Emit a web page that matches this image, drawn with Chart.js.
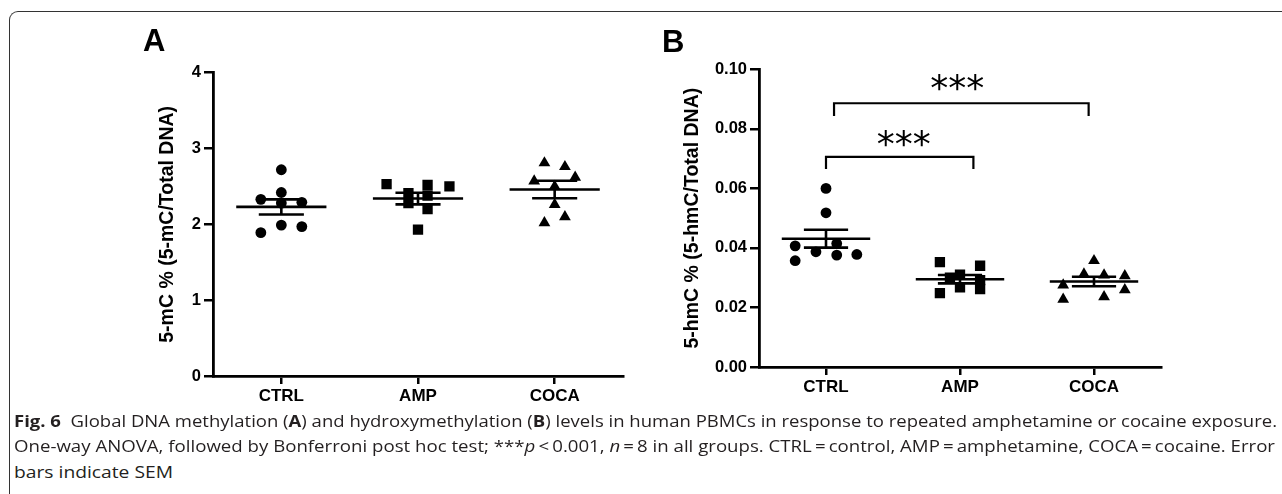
<!DOCTYPE html>
<html>
<head>
<meta charset="utf-8">
<script src="https://cdn.jsdelivr.net/npm/chart.js@4.4.1/dist/chart.umd.min.js"></script>
<style>
  html, body { margin: 0; padding: 0; background: #fff; }
  body { width: 1282px; height: 494px; position: relative; overflow: hidden; font-family: "Liberation Sans", Arial, sans-serif; }
  .frame { position: absolute; left: 9px; top: 11px; width: 1400px; height: 600px;
           border-top: 1.2px solid #333; border-left: 1.2px solid #333; border-top-left-radius: 9px; }
  #cA { position: absolute; left: 0; top: 0; }
  #cB { position: absolute; left: 640px; top: 0; }
  .panel { position: absolute; font: bold 31px "Liberation Sans", Arial, sans-serif; line-height: 31px; color: #000; }
  .cap { position: absolute; left: 14px; white-space: nowrap; font-family: "Open Sans", sans-serif;
         font-size: 16.5px; line-height: 20px; color: #231f20; transform-origin: 0 0; }
</style>
</head>
<body>
<div class="frame"></div>
<canvas id="cA" width="640" height="420"></canvas>
<canvas id="cB" width="642" height="420"></canvas>
<div class="panel" style="left:143px; top:25px;">A</div>
<div class="panel" style="left:662px; top:26px;">B</div>
<div class="cap" style="top:411px;" data-w="1263"><b>Fig. 6</b>&nbsp; Global DNA methylation (<b>A</b>) and hydroxymethylation (<b>B</b>) levels in human PBMCs in response to repeated amphetamine or cocaine exposure.</div>
<div class="cap" style="top:436px;" data-w="1261">One-way ANOVA, followed by Bonferroni post hoc test; ***<i>p</i>&thinsp;&lt;&thinsp;0.001, <i>n</i>&thinsp;=&thinsp;8 in all groups. CTRL&thinsp;=&thinsp;control, AMP&thinsp;=&thinsp;amphetamine, COCA&thinsp;=&thinsp;cocaine. Error</div>
<div class="cap" style="top:462px;" data-w="159">bars indicate SEM</div>
<script>
const groups = ['CTRL', 'AMP', 'COCA'];

// panel A: 5-mC %
const mcCtrl = [2.72, 2.42, 2.33, 2.29, 2.28, 1.99, 1.97, 1.89];
const mcAmp  = [2.53, 2.52, 2.50, 2.41, 2.38, 2.28, 2.20, 1.93];
const mcCoca = [2.81, 2.76, 2.62, 2.57, 2.50, 2.26, 2.10, 2.02];
const mcMean = [2.23, 2.34, 2.46];
const mcSem  = [0.10, 0.077, 0.115];
const mcTicks = [0, 1, 2, 3, 4];

// panel B: 5-hmC %
const hmcCtrl = [0.0600, 0.0518, 0.0407, 0.0415, 0.0387, 0.0376, 0.0378, 0.0357];
const hmcAmp  = [0.0352, 0.0340, 0.0310, 0.0300, 0.0292, 0.0268, 0.0262, 0.0248];
const hmcCoca = [0.0357, 0.0312, 0.0309, 0.0306, 0.0275, 0.0259, 0.0236, 0.0227];
const hmcMean = [0.0431, 0.0295, 0.0287];
const hmcSem  = [0.0030, 0.0014, 0.0016];
const hmcTicks = [0, 0.02, 0.04, 0.06, 0.08, 0.10];

// horizontal scatter of the dots within a group (category units)
const jitA = [
  [0, 0, -0.15, 0.15, 0, 0, 0.15, -0.15],
  [-0.23, 0.07, 0.23, -0.07, 0.07, -0.07, 0.07, 0],
  [-0.075, 0.075, 0.15, -0.15, 0, 0, 0.075, -0.075]
];
const jitB = [
  [0, 0, -0.23, 0.08, -0.075, 0.08, 0.23, -0.23],
  [-0.15, 0.15, 0, -0.075, 0.15, 0, 0.15, -0.15],
  [0, -0.075, 0.075, 0.23, -0.23, 0.23, 0.075, -0.23]
];

// significance brackets for panel B
const sigB = [
  { from: 0, to: 1.1, y: 0.0706, drop: 0.0041, text: '***', tx: 0.58, ty: 0.0766 },
  { from: 0.06, to: 1.96, y: 0.0886, drop: 0.0043, text: '***', tx: 0.98, ty: 0.0954 }
];

const styles = [
  { pointStyle: 'circle', radius: 5.4 },
  { pointStyle: 'rect', radius: 7.3 },
  { pointStyle: 'triangle', radius: 6.8 }
];

function dots(values, jit, g) {
  return values.map((v, i) => ({ x: g + jit[i], y: v }));
}

function errorBars(mean, sem) {
  const pts = [];
  mean.forEach((m, g) => {
    const s = sem[g];
    pts.push({ x: g - 0.33, y: m }, { x: g + 0.33, y: m }, { x: g, y: null });
    pts.push({ x: g - 0.165, y: m + s }, { x: g + 0.165, y: m + s }, { x: g, y: null });
    pts.push({ x: g - 0.165, y: m - s }, { x: g + 0.165, y: m - s }, { x: g, y: null });
    pts.push({ x: g, y: m + s }, { x: g, y: m - s }, { x: g, y: null });
  });
  return pts;
}

function bracketLines(list) {
  const pts = [];
  list.forEach(b => {
    pts.push({ x: b.from, y: b.y - b.drop }, { x: b.from, y: b.y }, { x: b.to, y: b.y }, { x: b.to, y: b.y - b.drop }, { x: b.to, y: null });
  });
  return pts;
}

const sigPlugin = {
  id: 'sigText',
  afterDatasetsDraw(chart, args, opts) {
    const marks = opts.marks || [];
    const { ctx, scales: { x, y } } = chart;
    ctx.save();
    ctx.font = '36px "DejaVu Sans", sans-serif';
    ctx.fillStyle = '#000';
    ctx.textAlign = 'center';
    ctx.textBaseline = 'alphabetic';
    marks.forEach(m => {
      const tm = ctx.measureText(m.text);
      const off = (tm.actualBoundingBoxAscent - tm.actualBoundingBoxDescent) / 2;
      ctx.fillText(m.text, x.getPixelForValue(m.tx), y.getPixelForValue(m.ty) + off);
    });
    ctx.restore();
  }
};

function makeChart(id, cfg) {
  const datasets = cfg.series.map((vals, g) => ({
    data: dots(vals, cfg.jit[g], g),
    pointStyle: styles[g].pointStyle,
    pointRadius: styles[g].radius,
    backgroundColor: '#000',
    borderWidth: 0,
    showLine: false
  }));
  datasets.push({
    data: errorBars(cfg.mean, cfg.sem),
    showLine: true, spanGaps: false, pointRadius: 0,
    borderColor: '#000', borderWidth: 2.6, borderCapStyle: 'butt'
  });
  if (cfg.sig) {
    datasets.push({
      data: bracketLines(cfg.sig),
      showLine: true, spanGaps: false, pointRadius: 0,
      borderColor: '#000', borderWidth: 2.2, borderJoinStyle: 'miter'
    });
  }
  return new Chart(document.getElementById(id), {
    type: 'scatter',
    data: { datasets },
    plugins: [sigPlugin],
    options: {
      responsive: false,
      animation: false,
      events: [],
      layout: { padding: cfg.padding },
      plugins: {
        legend: { display: false },
        tooltip: { enabled: false },
        sigText: { marks: cfg.sig || [] }
      },
      scales: {
        x: {
          type: 'linear', min: -0.5, max: 2.5,
          afterBuildTicks: s => { s.ticks = groups.map((g, i) => ({ value: i })); },
          afterFit: s => { s.height = 44; },
          ticks: {
            callback: v => groups[v],
            color: '#000', padding: 2, maxRotation: 0,
            font: { family: '"Liberation Sans", Arial, sans-serif', size: 17, weight: 'bold' }
          },
          grid: { drawOnChartArea: false, drawTicks: true, tickLength: 8, color: '#000', lineWidth: 2.5 },
          border: { display: true, color: '#000', width: 2.8 }
        },
        y: {
          min: cfg.ticks[0], max: cfg.ticks[cfg.ticks.length - 1],
          afterBuildTicks: s => { s.ticks = cfg.ticks.map(v => ({ value: v })); },
          afterFit: s => { s.width = cfg.yWidth; },
          ticks: {
            callback: cfg.fmt,
            color: '#000', padding: 3,
            font: { family: '"Liberation Sans", Arial, sans-serif', size: 16.5, weight: 'bold' }
          },
          grid: { drawOnChartArea: false, drawTicks: true, tickLength: 9, color: '#000', lineWidth: 2.5 },
          border: { display: true, color: '#000', width: 2.8 },
          title: {
            display: true, text: cfg.yTitle, color: '#000',
            padding: { top: cfg.titlePad, bottom: 0 },
            font: { family: '"Liberation Sans", Arial, sans-serif', size: 19.5, weight: 'bold' }
          }
        }
      }
    }
  });
}

makeChart('cA', {
  series: [mcCtrl, mcAmp, mcCoca], jit: jitA, mean: mcMean, sem: mcSem,
  ticks: mcTicks, fmt: v => String(v),
  yTitle: '5-mC % (5-mC/Total DNA)', yWidth: 213, titlePad: 156,
  padding: { left: 0, top: 72.7, right: 17, bottom: 0 }
});

makeChart('cB', {
  series: [hmcCtrl, hmcAmp, hmcCoca], jit: jitB, mean: hmcMean, sem: hmcSem,
  ticks: hmcTicks, fmt: v => v.toFixed(2), sig: sigB,
  yTitle: '5-hmC % (5-hmC/Total DNA)', yWidth: 119, titlePad: 41,
  padding: { left: 0, top: 69.3, right: 121, bottom: 9 }
});

document.querySelectorAll('.cap').forEach(el => {
  const w = el.getBoundingClientRect().width;
  el.style.transform = 'scaleX(' + (parseFloat(el.dataset.w) / w) + ')';
});
</script>
</body>
</html>
